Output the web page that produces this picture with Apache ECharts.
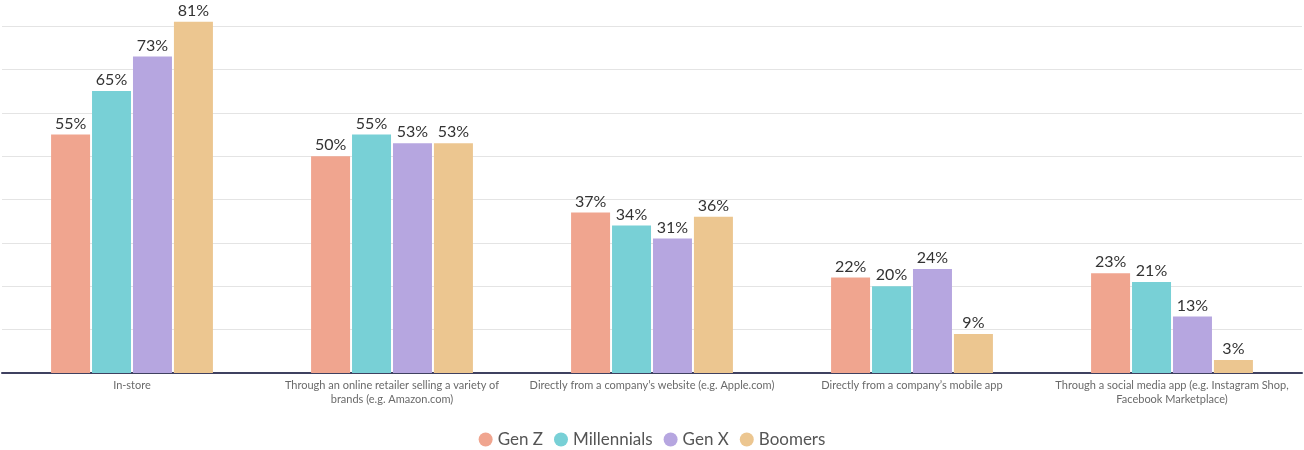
<!DOCTYPE html>
<html>
<head>
<meta charset="utf-8">
<style>
  html, body { margin: 0; padding: 0; background: #fff; }
  #chart { width: 1304px; height: 450px; }
</style>
<script src="https://cdn.jsdelivr.net/npm/echarts@6/dist/echarts.min.js"></script>
</head>
<body>
<div id="chart"></div>
<script>
// ── Where people shop, by generation ──

const channels = [
  'In-store',
  'Through an online retailer selling a variety of\nbrands (e.g. Amazon.com)',
  'Directly from a company\u2019s website (e.g. Apple.com)',
  'Directly from a company\u2019s mobile app',
  'Through a social media app (e.g. Instagram Shop,\nFacebook Marketplace)'
];
const genZ = [55, 50, 37, 22, 23];
const millennials = [65, 55, 34, 20, 21];
const genX = [73, 53, 31, 24, 13];
const boomers = [81, 53, 36, 9, 3];

const seriesDefs = [
  { name: 'Gen Z', data: genZ, color: '#f0a58f' },
  { name: 'Millennials', data: millennials, color: '#78d0d6' },
  { name: 'Gen X', data: genX, color: '#b6a6e0' },
  { name: 'Boomers', data: boomers, color: '#ecc690' },
];

// ticks 0..80 step 10, plus the extent tick at 86 which stays hidden
const gridColors = ['#e4e4e4', '#e4e4e4', '#e4e4e4', '#e4e4e4', '#e4e4e4',
  '#e4e4e4', '#e4e4e4', '#e4e4e4', '#e4e4e4', 'rgba(0,0,0,0)'];

const chart = echarts.init(document.getElementById('chart'));
chart.setOption({
  backgroundColor: '#fff',
  animation: false,
  textStyle: { fontFamily: 'Lato' },
  grid: { top: 0, bottom: 77, left: 2, right: 2 },
  legend: {
    top: 426, left: 'center', icon: 'circle', itemWidth: 14, itemHeight: 14, itemGap: 11,
    textStyle: { color: '#555', fontSize: 17 },
    data: seriesDefs.map(s => s.name)
  },
  xAxis: {
    type: 'category', data: channels,
    axisLine: { lineStyle: { color: '#3f4160', width: 2 } },
    axisTick: { show: false },
    axisLabel: { color: '#6a6a6a', fontSize: 11, margin: 5, lineHeight: 14, interval: 0 }
  },
  yAxis: {
    type: 'value', min: 0, max: 86, interval: 10,
    axisLabel: { show: false }, axisLine: { show: false }, axisTick: { show: false },
    splitLine: { lineStyle: { color: gridColors } }
  },
  series: seriesDefs.map(s => ({
    type: 'bar', name: s.name, data: s.data, barWidth: 39, barGap: '5%',
    itemStyle: { color: s.color },
    label: { show: true, position: 'top', distance: 3, formatter: '{c}%', color: '#333', fontSize: 16 }
  }))
});
</script>
</body>
</html>
